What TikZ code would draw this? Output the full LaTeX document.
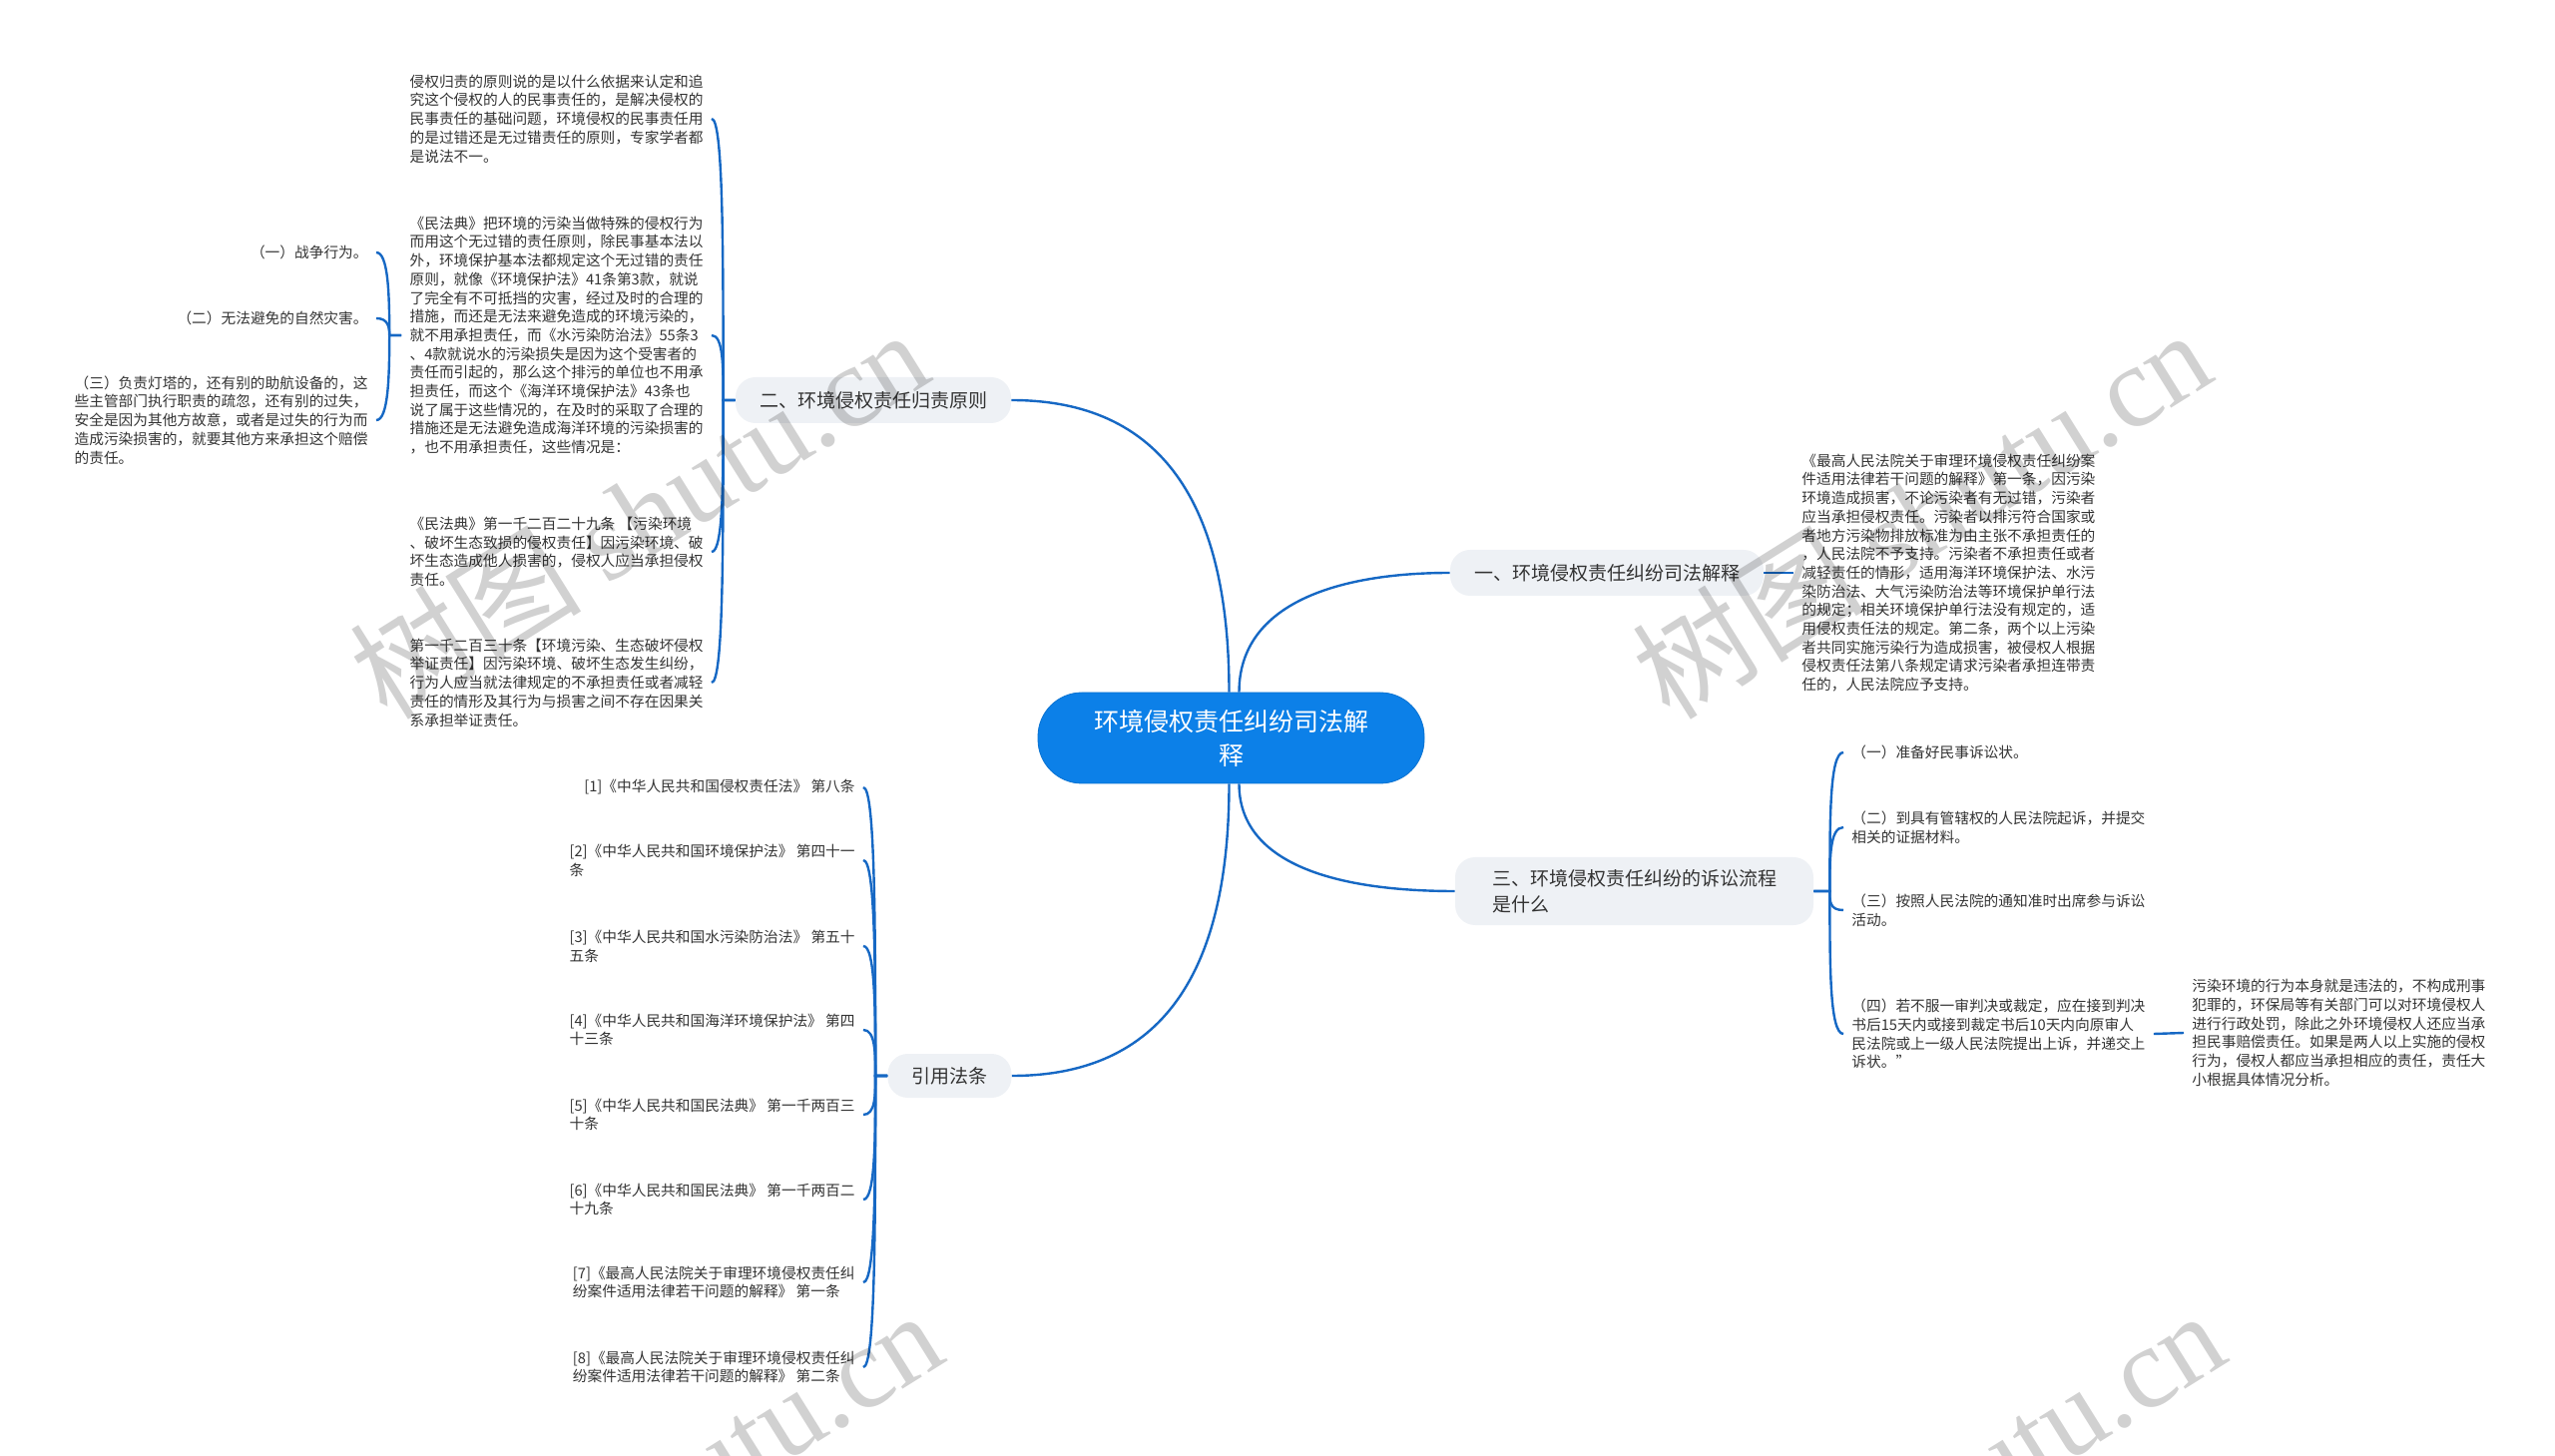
\documentclass[tikz,border=0pt]{standalone}
\usepackage{fontspec}
\setmainfont{Noto Sans CJK SC}
\newfontfamily\wmfont{Liberation Serif}

\definecolor{linkblue}{RGB}{22,104,196}
\definecolor{rootblue}{RGB}{12,128,232}
\definecolor{branchgrey}{RGB}{238,241,245}
\definecolor{leaftext}{RGB}{51,51,51}

\begin{document}
\begin{tikzpicture}[x=0.5pt,y=-0.5pt]

  % Definitions
  \tikzstyle{rootbox} = [rectangle, rounded corners=22pt, minimum width=193.5pt, minimum height=45.5pt, align=center, fill=rootblue, draw=rootblue!90!black, text=white, font={\fontsize{12.5pt}{17pt}\selectfont}]
  \tikzstyle{branch} = [rectangle, rounded corners=10pt, minimum height=23pt, inner xsep=12pt, fill=branchgrey, text=leaftext, align=left, font={\fontsize{9.5pt}{13pt}\selectfont}]
  \tikzstyle{leaf} = [inner xsep=4pt, inner ysep=0pt, align=left, text=leaftext, font={\fontsize{7.35pt}{9.35pt}\selectfont}]
  \tikzstyle{link} = [linkblue, line width=1.2pt]
  \tikzstyle{watermark} = [rotate=32, text=black, text opacity=0.18, font={\fontsize{58pt}{58pt}\selectfont}]

  \useasboundingbox (0,0) rectangle (2560,1459);

  \node (root) [rootbox] at (1233.5,739.5) {环境侵权责任纠纷司法解\\释};

  \node (b2) [branch] at (875,401) {二、环境侵权责任归责原则};
  \node (b1) [branch] at (1610,574) {一、环境侵权责任纠纷司法解释};
  \node (b3) [branch, minimum width=179.5pt, minimum height=34pt, inner xsep=15pt] at (1637.5,893) {三、环境侵权责任纠纷的诉讼流程\\是什么};
  \node (bref) [branch, minimum height=22pt] at (951.5,1078) {引用法条};

  % left: principle
  \node (l1) [leaf, anchor=east] at (713,119) {侵权归责的原则说的是以什么依据来认定和追\\
究这个侵权的人的民事责任的，是解决侵权的\\
民事责任的基础问题，环境侵权的民事责任用\\
的是过错还是无过错责任的原则，专家学者都\\
是说法不一。};
  \node (l2) [leaf, anchor=east] at (713,336) {《民法典》把环境的污染当做特殊的侵权行为\\
而用这个无过错的责任原则，除民事基本法以\\
外，环境保护基本法都规定这个无过错的责任\\
原则，就像《环境保护法》41条第3款，就说\\
了完全有不可抵挡的灾害，经过及时的合理的\\
措施，而还是无法来避免造成的环境污染的，\\
就不用承担责任，而《水污染防治法》55条3\\
、4款就说水的污染损失是因为这个受害者的\\
责任而引起的，那么这个排污的单位也不用承\\
担责任，而这个《海洋环境保护法》43条也\\
说了属于这些情况的，在及时的采取了合理的\\
措施还是无法避免造成海洋环境的污染损害的\\
，也不用承担责任，这些情况是：};
  \node (l3) [leaf, anchor=east] at (713,553) {《民法典》第一千二百二十九条 【污染环境\\
、破坏生态致损的侵权责任】因污染环境、破\\
坏生态造成他人损害的，侵权人应当承担侵权\\
责任。};
  \node (l4) [leaf, anchor=east] at (713,684) {第一千二百三十条【环境污染、生态破坏侵权\\
举证责任】因污染环境、破坏生态发生纠纷，\\
行为人应当就法律规定的不承担责任或者减轻\\
责任的情形及其行为与损害之间不存在因果关\\
系承担举证责任。};

  \node (c1) [leaf, anchor=east] at (377,253) {（一）战争行为。};
  \node (c2) [leaf, anchor=east] at (377,319) {（二）无法避免的自然灾害。};
  \node (c3) [leaf, anchor=east] at (377,421) {（三）负责灯塔的，还有别的助航设备的，这\\
些主管部门执行职责的疏忽，还有别的过失，\\
安全是因为其他方故意，或者是过失的行为而\\
造成污染损害的，就要其他方来承担这个赔偿\\
的责任。};

  % left: references
  \node (ref1) [leaf, anchor=east] at (865,789) {[1]《中华人民共和国侵权责任法》 第八条};
  \node (ref2) [leaf, anchor=east] at (865,862) {[2]《中华人民共和国环境保护法》 第四十一\\条};
  \node (ref3) [leaf, anchor=east] at (865,948) {[3]《中华人民共和国水污染防治法》 第五十\\五条};
  \node (ref4) [leaf, anchor=east] at (865,1032) {[4]《中华人民共和国海洋环境保护法》 第四\\十三条};
  \node (ref5) [leaf, anchor=east] at (865,1117) {[5]《中华人民共和国民法典》 第一千两百三\\十条};
  \node (ref6) [leaf, anchor=east] at (865,1202) {[6]《中华人民共和国民法典》 第一千两百二\\十九条};
  \node (ref7) [leaf, anchor=east] at (865,1285) {[7]《最高人民法院关于审理环境侵权责任纠\\纷案件适用法律若干问题的解释》 第一条};
  \node (ref8) [leaf, anchor=east] at (865,1370) {[8]《最高人民法院关于审理环境侵权责任纠\\纷案件适用法律若干问题的解释》 第二条};

  % right: interpretation
  \node (r1) [leaf, anchor=west] at (1797,574) {《最高人民法院关于审理环境侵权责任纠纷案\\
件适用法律若干问题的解释》第一条，因污染\\
环境造成损害，不论污染者有无过错，污染者\\
应当承担侵权责任。污染者以排污符合国家或\\
者地方污染物排放标准为由主张不承担责任的\\
，人民法院不予支持。污染者不承担责任或者\\
减轻责任的情形，适用海洋环境保护法、水污\\
染防治法、大气污染防治法等环境保护单行法\\
的规定；相关环境保护单行法没有规定的，适\\
用侵权责任法的规定。第二条，两个以上污染\\
者共同实施污染行为造成损害，被侵权人根据\\
侵权责任法第八条规定请求污染者承担连带责\\
任的，人民法院应予支持。};

  % right: procedure
  \node (s1) [leaf, anchor=west] at (1847,754) {（一）准备好民事诉讼状。};
  \node (s2) [leaf, anchor=west] at (1847,829) {（二）到具有管辖权的人民法院起诉，并提交\\相关的证据材料。};
  \node (s3) [leaf, anchor=west] at (1847,912) {（三）按照人民法院的通知准时出席参与诉讼\\活动。};
  \node (s4) [leaf, anchor=west] at (1847,1036) {（四）若不服一审判决或裁定，应在接到判决\\
书后15天内或接到裁定书后10天内向原审人\\
民法院或上一级人民法院提出上诉，并递交上\\
诉状。”};
  \node (s4a) [leaf, anchor=west] at (2188,1035) {污染环境的行为本身就是违法的，不构成刑事\\
犯罪的，环保局等有关部门可以对环境侵权人\\
进行行政处罚，除此之外环境侵权人还应当承\\
担民事赔偿责任。如果是两人以上实施的侵权\\
行为，侵权人都应当承担相应的责任，责任大\\
小根据具体情况分析。};

  % connectors
  \draw [link] ([xshift=-1pt]root.north) .. controls +(0,-190) and +(150,0) .. (b2.east);
  \draw [link] ([xshift=4pt]root.north) .. controls +(0,-90) and +(-110,0) .. (b1.west);
  \draw [link] ([xshift=4pt]root.south) .. controls +(0,80) and +(-120,0) .. (b3.west);
  \draw [link] ([xshift=-1pt]root.south) .. controls +(0,190) and +(150,0) .. (bref.east);

  \draw [link] (b2.west) -- ++(-12,0) .. controls +(0,-141) and +(12,0) .. (l1.east);
  \draw [link] (b2.west) -- ++(-12,0) .. controls +(0,-32) and +(12,0) .. (l2.east);
  \draw [link] (b2.west) -- ++(-12,0) .. controls +(0,76) and +(12,0) .. (l3.east);
  \draw [link] (b2.west) -- ++(-12,0) .. controls +(0,141) and +(12,0) .. (l4.east);

  \draw [link] (l2.west) -- ++(-12,0) .. controls +(0,-41) and +(12,0) .. (c1.east);
  \draw [link] (l2.west) -- ++(-12,0) .. controls +(0,-8) and +(12,0) .. (c2.east);
  \draw [link] (l2.west) -- ++(-12,0) .. controls +(0,42) and +(12,0) .. (c3.east);

  \draw [link] (bref.west) -- ++(-12,0) .. controls +(0,-144) and +(12,0) .. (ref1.east);
  \draw [link] (bref.west) -- ++(-12,0) .. controls +(0,-108) and +(12,0) .. (ref2.east);
  \draw [link] (bref.west) -- ++(-12,0) .. controls +(0,-65) and +(12,0) .. (ref3.east);
  \draw [link] (bref.west) -- ++(-12,0) .. controls +(0,-23) and +(12,0) .. (ref4.east);
  \draw [link] (bref.west) -- ++(-12,0) .. controls +(0,20) and +(12,0) .. (ref5.east);
  \draw [link] (bref.west) -- ++(-12,0) .. controls +(0,62) and +(12,0) .. (ref6.east);
  \draw [link] (bref.west) -- ++(-12,0) .. controls +(0,104) and +(12,0) .. (ref7.east);
  \draw [link] (bref.west) -- ++(-12,0) .. controls +(0,146) and +(12,0) .. (ref8.east);

  \draw [link] (b1.east) -- (r1.west);

  \draw [link] (b3.east) -- ++(16,0) .. controls +(0,-70) and +(-14,0) .. (s1.west);
  \draw [link] (b3.east) -- ++(16,0) .. controls +(0,-32) and +(-14,0) .. (s2.west);
  \draw [link] (b3.east) -- ++(16,0) .. controls +(0,10) and +(-14,0) .. (s3.west);
  \draw [link] (b3.east) -- ++(16,0) .. controls +(0,72) and +(-14,0) .. (s4.west);

  \draw [link] (s4.east) -- (s4a.west);

  % watermarks
  \node (wm1) [watermark] at (640,514) {树图 {\wmfont shutu.cn}};
  \node (wm2) [watermark] at (1925,514) {树图 {\wmfont shutu.cn}};
  \node (wm3) [watermark] at (654,1497) {树图 {\wmfont shutu.cn}};
  \node (wm4) [watermark] at (1939,1497) {树图 {\wmfont shutu.cn}};

\end{tikzpicture}
\end{document}
